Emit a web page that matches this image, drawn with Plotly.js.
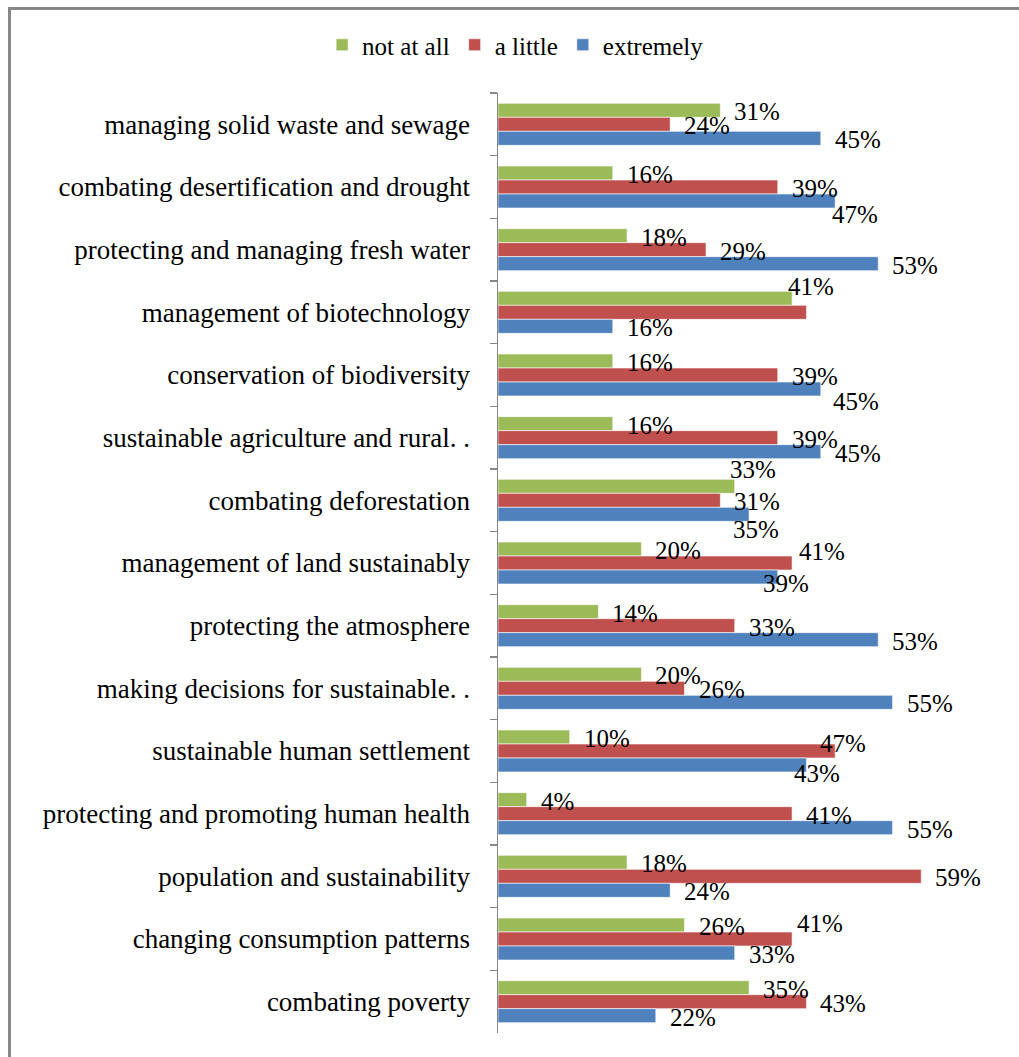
<!DOCTYPE html>
<html>
<head>
<meta charset="utf-8">
<script src="https://cdn.plot.ly/plotly-3.0.1.min.js"></script>
<style>
  html, body { margin: 0; padding: 0; background: #fff; }
  #wrap { position: relative; width: 1019px; height: 1057px; overflow: hidden; }
  #chart { position: absolute; left: 0; top: 0; width: 1019px; height: 1057px; }
  #frame { position: absolute; left: 8px; top: 7px; width: 1200px; height: 1200px;
           border-left: 3px solid #878787; border-top: 3px solid #878787; pointer-events: none; }
</style>
</head>
<body>
<div id="wrap">
  <div id="chart"></div>
  <div id="frame"></div>
</div>
<script>
const categories = [
  "managing solid waste and sewage",
  "combating desertification and drought",
  "protecting and managing fresh water",
  "management of biotechnology",
  "conservation of biodiversity",
  "sustainable agriculture and rural. .",
  "combating deforestation",
  "management of land sustainably",
  "protecting the atmosphere",
  "making decisions for sustainable. .",
  "sustainable human settlement",
  "protecting and promoting human health",
  "population and sustainability",
  "changing consumption patterns",
  "combating poverty"
];
const seriesNames = ["not at all", "a little", "extremely"];
const notAtAll  = [31, 16, 18, 41, 16, 16, 33, 20, 14, 20, 10,  4, 18, 26, 35];
const aLittle   = [24, 39, 29, 43, 39, 39, 31, 41, 33, 26, 47, 41, 59, 41, 43];
const extremely = [45, 47, 53, 16, 45, 45, 35, 39, 53, 55, 43, 55, 24, 33, 22];
const colors = ["#9BBB59", "#C0504D", "#4F81BD"];

// data labels: which are shown, and manual nudges (px) as placed in the original chart
const labelHidden = { "1-3": true };
const labelNudge = {
  "2-1":  { dx: -17, dy: 13 },
  "0-3":  { dx: -18, dy: -12 },
  "2-4":  { dx: -2,  dy: 12 },
  "0-6":  { dx: -19, dy: -17 },
  "2-6":  { dx: -30, dy: 15 },
  "1-7":  { dx: -7,  dy: -12 },
  "2-7":  { dx: -29, dy: 6 },
  "1-10": { dx: -29, dy: -8 },
  "2-10": { dx: -26, dy: 8 },
  "1-13": { dx: -9,  dy: -16 }
};

const serif = "Liberation Serif";
const bargap = 0.33;
const values = [notAtAll, aLittle, extremely];
const traces = values.map((vals, k) => ({
  type: "bar",
  orientation: "h",
  name: seriesNames[k],
  y: categories,
  x: vals,
  marker: { color: colors[k], line: { color: "rgba(255,255,255,0.6)", width: 1 } },
  hoverinfo: "skip"
}));

// label annotations placed at each bar's end, using the category axis (index units)
const annotations = [];
const barSlot = (1 - bargap) / values.length;
values.forEach((vals, k) => {
  vals.forEach((v, i) => {
    const key = k + "-" + i;
    if (labelHidden[key]) return;
    const n = labelNudge[key] || { dx: 0, dy: 1.5 };
    annotations.push({
      xref: "x", yref: "y",
      x: v, y: i + (k - 1) * barSlot,
      text: v + "%",
      showarrow: false,
      xanchor: "left", yanchor: "middle",
      xshift: 12 + n.dx, yshift: -n.dy,
      font: { family: serif, size: 25, color: "#000" }
    });
  });
});

const layout = {
  width: 1019,
  height: 1057,
  margin: { l: 498, r: 21, t: 93, b: 24 },
  paper_bgcolor: "#fff",
  plot_bgcolor: "rgba(0,0,0,0)",
  barmode: "group",
  bargap: bargap,
  bargroupgap: 0,
  font: { family: serif, size: 25, color: "#000" },
  showlegend: true,
  legend: {
    orientation: "h",
    xref: "container", yref: "container",
    x: 0.506, xanchor: "center",
    y: 1 - 45 / 1057, yanchor: "middle",
    font: { family: serif, size: 25, color: "#000" },
    itemclick: false, traceorder: "normal",
    itemwidth: 30
  },
  xaxis: {
    range: [0, 69.7],
    showgrid: false, zeroline: false, showline: false,
    showticklabels: false, ticks: ""
  },
  yaxis: {
    type: "category",
    autorange: "reversed",
    showline: true, linecolor: "#868686", linewidth: 1.5,
    ticks: "outside", tickson: "boundaries", ticklen: 7, tickcolor: "#868686", tickwidth: 1.5,
    ticklabelstandoff: 21,
    tickfont: { family: serif, size: 27, color: "#000" },
    showgrid: false, zeroline: false
  },
  annotations: annotations
};

Plotly.newPlot("chart", traces, layout, { staticPlot: true, displayModeBar: false });
</script>
</body>
</html>
